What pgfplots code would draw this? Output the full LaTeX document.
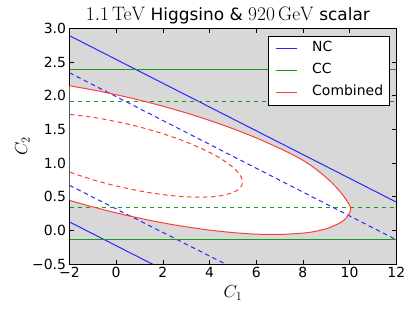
\RequirePackage{fix-cm}
\documentclass[border=0pt]{standalone}
\usepackage[no-math]{fontspec}
\setmainfont{DejaVu Sans}
\usepackage{pgfplots}
\pgfplotsset{compat=1.18}
\definecolor{ncblue}{RGB}{40,40,255}
\definecolor{mygreen}{RGB}{30,150,30}
\definecolor{comred}{RGB}{255,60,60}
\definecolor{bggray}{RGB}{216,216,216}
\begin{document}
\begin{tikzpicture}
\useasboundingbox (0,0) rectangle (415bp,312bp);
\begin{axis}[
  at={(69.5bp,48bp)}, anchor=south west,
  scale only axis, width=326.8bp, height=235.5bp,
  xmin=-2, xmax=12, ymin=-0.5, ymax=3,
  xtick={-2,0,2,4,6,8,10,12},
  ytick={-0.5,0,0.5,1,1.5,2,2.5,3},
  xticklabels={−2,0,2,4,6,8,10,12},
  yticklabels={−0.5,0.0,0.5,1.0,1.5,2.0,2.5,3.0},
  tick pos=both,
  tick label style={font=\fontsize{14}{16}\selectfont},
  major tick length=4bp,
  tick style={black, line width=0.6bp},
  axis line style={line width=0.8bp},
  axis background/.style={fill=bggray},
  title={{\fontsize{19.5}{22}\selectfont$1.1\,\mathrm{TeV}$} {\fontsize{17}{20}\selectfont Higgsino \&} {\fontsize{19.5}{22}\selectfont$920\,\mathrm{GeV}$} {\fontsize{17}{20}\selectfont scalar}},
  title style={font=\fontsize{17}{20}\selectfont, at={(0.5,1)}, anchor=base, yshift=2.5bp, xshift=-5bp},
  xlabel={$C_1$}, ylabel={$C_2$},
  xlabel style={font=\fontsize{17.5}{20}\selectfont, at={(axis description cs:0.5,-0.123)}, anchor=center},
  ylabel style={font=\fontsize{17.5}{20}\selectfont, at={(axis description cs:-0.144,0.5)}, anchor=center},
  legend style={at={(0.9786,0.968)}, anchor=north east, draw=black, fill=white,
    font=\fontsize{14}{16}\selectfont, inner xsep=4bp, inner ysep=3.75bp, row sep=5bp,
    nodes={inner sep=2bp, text height=10bp, text depth=3bp},
    /tikz/every odd column/.append style={column sep=12.5bp}},
  legend cell align=left,
  legend image code/.code={\path (-3.7bp,0bp); \draw[#1, line width=1bp] (0bp,0bp) -- (21bp,0bp);},
]
% allowed region (white) inside combined contour
\addplot[draw=none, fill=white, smooth, forget plot] coordinates {
(-3,2.199) (-2,2.148) (-1,2.087) (0,2.016) (1,1.935) (2,1.845) (3,1.745) (4,1.634) (5,1.511) (6,1.374) (7,1.220) (7.5,1.135) (8,1.041) (8.5,0.925) (9,0.785) (9.4,0.65) (9.7,0.53) (9.9,0.43) (10.02,0.36) (10.05,0.32) (10.0,0.26) (9.9,0.205) (9.75,0.15) (9.55,0.105) (9.3,0.065) (9,0.024) (8.5,-0.017) (8,-0.041) (7,-0.061) (6,-0.056) (5,-0.033) (4,0.004) (3,0.053) (2,0.111) (1,0.181) (0,0.260) (-1,0.348) (-2,0.446) (-3,0.555)
};
% NC
\addplot[draw=ncblue, line width=1bp, forget plot] coordinates {(-2,2.893) (12,0.42)};
\addplot[draw=ncblue, line width=1bp, forget plot] coordinates {(-2,0.125) (4,-0.934)};
\addplot[draw=ncblue, line width=1bp, dash pattern=on 4.5bp off 3.5bp, forget plot] coordinates {(-2,2.342) (12,-0.14)};
\addplot[draw=ncblue, line width=1bp, dash pattern=on 4.5bp off 3.5bp, forget plot] coordinates {(-2,0.669) (6,-0.731)};
% CC
\addplot[color=mygreen, draw=mygreen, line width=1.5bp, forget plot] coordinates {(-2,2.3907) (12,2.3907)};
\addplot[color=mygreen, draw=mygreen, line width=1.5bp, forget plot] coordinates {(-2,-0.1359) (12,-0.1359)};
\addplot[color=mygreen, draw=mygreen, line width=1.5bp, dash pattern=on 4.5bp off 3.5bp, forget plot] coordinates {(-2,1.9151) (12,1.9151)};
\addplot[color=mygreen, draw=mygreen, line width=1.5bp, dash pattern=on 4.5bp off 3.5bp, forget plot] coordinates {(-2,0.3397) (12,0.3397)};
% Combined
\addplot[draw=comred, line width=1bp, dash pattern=on 4.5bp off 3.5bp, smooth, forget plot] coordinates {
(-3,1.737) (-2,1.722) (-1,1.680) (0,1.617) (1,1.536) (2,1.436) (3,1.313) (4,1.159) (4.5,1.062) (5,0.938) (5.25,0.850) (5.38,0.772) (5.41,0.718) (5.38,0.668) (5.25,0.611) (5,0.562) (4.5,0.516) (4,0.497) (3,0.498) (2,0.531) (1,0.586) (0,0.660) (-1,0.753) (-2,0.867) (-3,1.007)
};
\addplot[draw=comred, line width=1bp, smooth, forget plot] coordinates {
(-3,2.199) (-2,2.148) (-1,2.087) (0,2.016) (1,1.935) (2,1.845) (3,1.745) (4,1.634) (5,1.511) (6,1.374) (7,1.220) (7.5,1.135) (8,1.041) (8.5,0.925) (9,0.785) (9.4,0.65) (9.7,0.53) (9.9,0.43) (10.02,0.36) (10.05,0.32) (10.0,0.26) (9.9,0.205) (9.75,0.15) (9.55,0.105) (9.3,0.065) (9,0.024) (8.5,-0.017) (8,-0.041) (7,-0.061) (6,-0.056) (5,-0.033) (4,0.004) (3,0.053) (2,0.111) (1,0.181) (0,0.260) (-1,0.348) (-2,0.446) (-3,0.555)
};
\addlegendimage{ncblue}
\addlegendentry{NC}
\addlegendimage{mygreen}
\addlegendentry{CC}
\addlegendimage{comred}
\addlegendentry{Combined}
\end{axis}
\end{tikzpicture}
\end{document}
